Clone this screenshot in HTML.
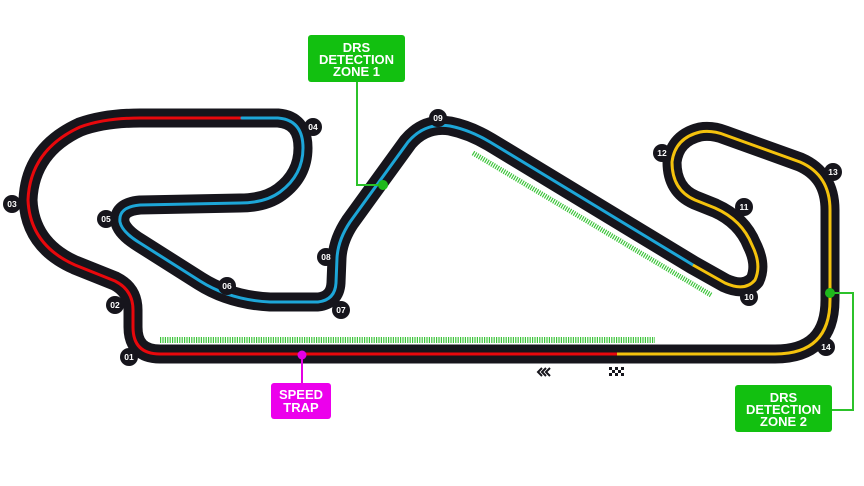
<!DOCTYPE html>
<html><head><meta charset="utf-8"><style>
html,body{margin:0;padding:0;background:#fff;}
svg{display:block;}
text{font-family:"Liberation Sans",sans-serif;font-weight:bold;}
</style></head><body>
<svg width="864" height="486" viewBox="0 0 864 486" xmlns="http://www.w3.org/2000/svg">
<rect width="864" height="486" fill="#fff"/>
<line x1="160" y1="340" x2="655" y2="340" stroke="#3cc43a" stroke-width="6" stroke-dasharray="1.2 1.2"/>
<line x1="473" y1="153" x2="711" y2="295" stroke="#3cc43a" stroke-width="5" stroke-dasharray="1.2 1.2"/>
<g fill="none" stroke-linecap="round" stroke-linejoin="round">
<path d="M617,354 L160,354 Q133,354 133,327 L133,310 Q133,290 115,281 L75,265 Q30,245 28,200 Q30,150 80,127 Q105,118 140,118 L242,118 L278,118 Q303,120 303,148 Q303,175 280,192 Q265,203 240,203 L140,205 Q118,207 120,222 Q122,232 140,243 L200,281 Q230,300 270,302 L318,302 Q335,300 336,283 L337,258 Q338,240 350,222 L408,142 Q425,122 450,126 Q470,130 490,142 L693,265 L725,283 Q745,292 755,280 Q762,265 752,245 Q742,220 715,208 L695,200 Q672,190 672,162 Q675,138 700,132 Q712,130 725,135 L800,162 Q830,175 830,210 L830,300 Q830,354 775,354 Z" stroke="#16151c" stroke-width="19"/>
<path d="M617,354 L160,354 Q133,354 133,327 L133,310 Q133,290 115,281 L75,265 Q30,245 28,200 Q30,150 80,127 Q105,118 140,118 L242,118" stroke="#e8080c" stroke-width="3"/>
<path d="M242,118 L278,118 Q303,120 303,148 Q303,175 280,192 Q265,203 240,203 L140,205 Q118,207 120,222 Q122,232 140,243 L200,281 Q230,300 270,302 L318,302 Q335,300 336,283 L337,258 Q338,240 350,222 L408,142 Q425,122 450,126 Q470,130 490,142 L693,265" stroke="#1da6d8" stroke-width="3"/>
<path d="M693,265 L725,283 Q745,292 755,280 Q762,265 752,245 Q742,220 715,208 L695,200 Q672,190 672,162 Q675,138 700,132 Q712,130 725,135 L800,162 Q830,175 830,210 L830,300 Q830,354 775,354 L617,354" stroke="#f4c20d" stroke-width="3" stroke-linecap="butt"/>
</g>
<g fill="none" stroke="#2cc22a" stroke-width="2">
<polyline points="357,82 357,185 383,185"/>
<polyline points="830,293 853,293 853,410 832,410"/>
</g>
<line x1="302" y1="355" x2="302" y2="384" stroke="#e400e4" stroke-width="2"/>
<circle cx="383" cy="185" r="5" fill="#1fb81c"/>
<circle cx="830" cy="293" r="5" fill="#1fb81c"/>
<circle cx="302" cy="355" r="4.5" fill="#e400e4"/>
<rect x="308" y="35" width="97" height="47" rx="3" fill="#12c010"/>
<text x="356.5" y="52" font-size="13" fill="#fff" text-anchor="middle">DRS</text>
<text x="356.5" y="64" font-size="13" fill="#fff" text-anchor="middle">DETECTION</text>
<text x="356.5" y="76" font-size="13" fill="#fff" text-anchor="middle">ZONE 1</text>
<rect x="735" y="385" width="97" height="47" rx="3" fill="#12c010"/>
<text x="783.5" y="402" font-size="13" fill="#fff" text-anchor="middle">DRS</text>
<text x="783.5" y="414" font-size="13" fill="#fff" text-anchor="middle">DETECTION</text>
<text x="783.5" y="426" font-size="13" fill="#fff" text-anchor="middle">ZONE 2</text>
<rect x="271" y="383" width="60" height="36" rx="3" fill="#ec00ec"/>
<text x="301" y="399" font-size="13" fill="#fff" text-anchor="middle">SPEED</text>
<text x="301" y="412" font-size="13" fill="#fff" text-anchor="middle">TRAP</text>
<g font-size="8.5" fill="#fff" text-anchor="middle">
<circle cx="129" cy="357" r="9" fill="#16151c"/><text x="129" y="360">01</text>
<circle cx="115" cy="305" r="9" fill="#16151c"/><text x="115" y="308">02</text>
<circle cx="12" cy="204" r="9" fill="#16151c"/><text x="12" y="207">03</text>
<circle cx="313" cy="127" r="9" fill="#16151c"/><text x="313" y="130">04</text>
<circle cx="106" cy="219" r="9" fill="#16151c"/><text x="106" y="222">05</text>
<circle cx="227" cy="286" r="9" fill="#16151c"/><text x="227" y="289">06</text>
<circle cx="341" cy="310" r="9" fill="#16151c"/><text x="341" y="313">07</text>
<circle cx="326" cy="257" r="9" fill="#16151c"/><text x="326" y="260">08</text>
<circle cx="438" cy="118" r="9" fill="#16151c"/><text x="438" y="121">09</text>
<circle cx="749" cy="297" r="9" fill="#16151c"/><text x="749" y="300">10</text>
<circle cx="744" cy="207" r="9" fill="#16151c"/><text x="744" y="210">11</text>
<circle cx="662" cy="153" r="9" fill="#16151c"/><text x="662" y="156">12</text>
<circle cx="833" cy="172" r="9" fill="#16151c"/><text x="833" y="175">13</text>
<circle cx="826" cy="347" r="9" fill="#16151c"/><text x="826" y="350">14</text>
</g>
<g fill="none" stroke="#16151c" stroke-width="2">
<polyline points="542,368 538,372 542,376"/>
<polyline points="546,368 542,372 546,376"/>
<polyline points="550,368 546,372 550,376"/>
</g>
<g fill="#16151c">
<rect x="609" y="367" width="3" height="3"/><rect x="615" y="367" width="3" height="3"/><rect x="621" y="367" width="3" height="3"/>
<rect x="612" y="370" width="3" height="3"/><rect x="618" y="370" width="3" height="3"/>
<rect x="609" y="373" width="3" height="3"/><rect x="615" y="373" width="3" height="3"/><rect x="621" y="373" width="3" height="3"/>
</g>
</svg>
</body></html>
